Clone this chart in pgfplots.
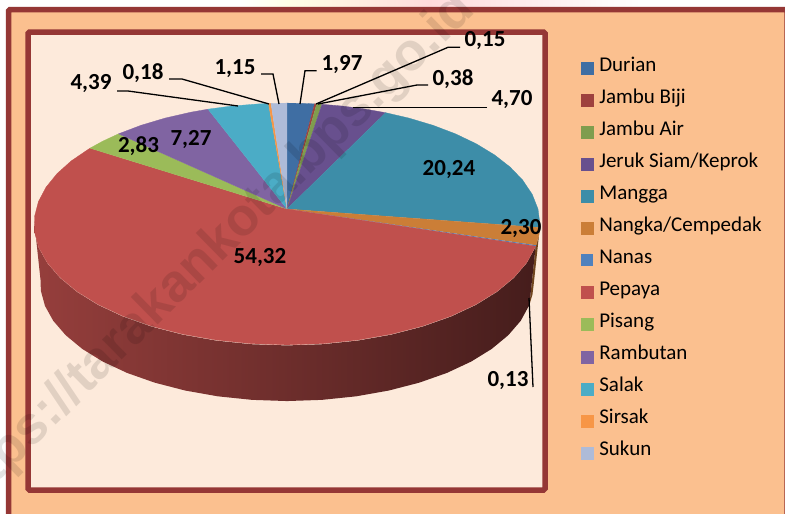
\documentclass[border=0pt]{standalone}
\usepackage{fontspec}
\setmainfont{Carlito}
\newfontfamily\wmfont{Liberation Sans}
\usepackage{pgfplots}
\pgfplotsset{compat=1.18}
\definecolor{frame}{HTML}{953735}
\definecolor{peach}{HTML}{FBC08F}
\definecolor{panel}{HTML}{FDEADB}
\definecolor{cDurian}{HTML}{3F6EA3}
\definecolor{cBiji}{HTML}{9E413E}
\definecolor{cAir}{HTML}{7F9D4E}
\definecolor{cJeruk}{HTML}{68508E}
\definecolor{cMangga}{HTML}{3D8DA8}
\definecolor{cNangka}{HTML}{CB7E37}
\definecolor{cNanas}{HTML}{4F81BD}
\definecolor{cPepaya}{HTML}{C0504D}
\definecolor{cPisang}{HTML}{9BBB59}
\definecolor{cRambutan}{HTML}{8064A2}
\definecolor{cSalak}{HTML}{4BACC6}
\definecolor{cSirsak}{HTML}{F79646}
\definecolor{cSukun}{HTML}{AEBBD8}
\pgfplotsset{
  /pgfplots/table/toppie/.style={
    x expr={287+\thisrow{r}*251*sin(3.6*\thisrow{p})/(1+0.124*cos(3.6*\thisrow{p}))},
    y expr={209-\thisrow{r}*119*cos(3.6*\thisrow{p})/(1+0.124*cos(3.6*\thisrow{p}))}},
  /pgfplots/table/sidepie/.style={
    x expr={287+(1-0.025*\thisrow{l})*251*sin(3.6*\thisrow{p})/(1+0.124*cos(3.6*\thisrow{p}))},
    y expr={209.6+59*\thisrow{l}-(1-0.025*\thisrow{l})*119*cos(3.6*\thisrow{p})/(1+0.124*cos(3.6*\thisrow{p}))}},
  slice/.style={fill=#1,draw=#1,line width=0.3pt,legend image code/.code={\fill[#1] (0pt,-3pt) rectangle (12pt,9pt);}},
  sliver/.style={fill=#1,draw=none,legend image code/.code={\fill[#1] (0pt,-3pt) rectangle (12pt,9pt);}},
  leader/.style={black,line width=1.3pt,forget plot},
}
\newcommand{\lab}[3]{\node[font=\fontsize{23}{26}\selectfont\bfseries,text=black,inner sep=0pt] at (axis cs:#1,#2) {#3};}
\begin{document}
\begin{tikzpicture}
\begin{axis}[name=ax,scale only axis,width=785pt,height=514pt,
  xmin=0,xmax=785,ymin=0,ymax=514,y dir=reverse,hide axis,clip=true,
  legend style={draw=none,fill=none,at={(axis cs:581,51)},anchor=north west,inner sep=0pt,outer sep=0pt,
    row sep=0pt,column sep=6pt,font=\fontsize{21}{24}\selectfont,
    nodes={inner sep=0pt,text height=20pt,text depth=12.08pt,anchor=base west}},
  legend cell align=left]
% panels
\fill[white] (axis cs:0,0) rectangle (axis cs:785,514);
\fill[left color=white,right color=green!8!yellow!10] (axis cs:240,0) rectangle (axis cs:290,8);
\fill[left color=green!8!yellow!10,right color=red!14] (axis cs:290,0) rectangle (axis cs:430,8);
\fill[left color=red!14,right color=white] (axis cs:430,0) rectangle (axis cs:640,8);
\fill[peach] (axis cs:8.5,9.5) rectangle (axis cs:787,520);
\draw[frame,line width=5.5pt,rounded corners=1.5pt] (axis cs:8.5,9.5) rectangle (axis cs:787,520);
\filldraw[fill=panel,draw=frame,line width=5.5pt,rounded corners=1.5pt] (axis cs:28,32) rectangle (axis cs:545,490);
% sides
\addplot[fill=cNangka!55!black,draw=none,forget plot] table[sidepie] {
p l
27.3 0
28.5 0
29.87 0
29.87 1
28.5 1
27.3 1
};
\addplot[left color=cPepaya!78!black,middle color=cPepaya!50!black,right color=cPepaya!36!black,draw=none,forget plot] table[sidepie] {
p l
29.87 0
32 0
34 0
36 0
38 0
40 0
42 0
44 0
46 0
48 0
50 0
52 0
54 0
56 0
58 0
60 0
62 0
64 0
66 0
68 0
70 0
72 0
73.5 0
73.5 1
72 1
70 1
68 1
66 1
64 1
62 1
60 1
58 1
56 1
54 1
52 1
50 1
48 1
46 1
44 1
42 1
40 1
38 1
36 1
34 1
32 1
29.87 1
};
% tops
\addplot[slice=cDurian] table[toppie] {
p r
0 0
0 1
1 1
1.97 1
};
\addlegendentry{Durian}
\addplot[slice=cBiji] table[toppie] {
p r
1.97 0
1.97 1
2.12 1
};
\addlegendentry{Jambu Biji}
\addplot[slice=cAir] table[toppie] {
p r
2.12 0
2.12 1
2.5 1
};
\addlegendentry{Jambu Air}
\addplot[slice=cJeruk] table[toppie] {
p r
2.5 0
2.5 1
4 1
5.5 1
7.2 1
};
\addlegendentry{Jeruk Siam/Keprok}
\addplot[slice=cMangga] table[toppie] {
p r
7.2 0
7.2 1
9 1
11 1
13 1
15 1
17 1
19 1
21 1
23 1
25 1
27 1
27.44 1
};
\addlegendentry{Mangga}
\addplot[slice=cNangka] table[toppie] {
p r
27.44 0
27.44 1
28.5 1
29.74 1
};
\addlegendentry{Nangka/Cempedak}
\addplot[sliver=cNanas] table[toppie] {
p r
29.74 0
29.74 1
29.87 1
};
\addlegendentry{Nanas}
\addplot[slice=cPepaya] table[toppie] {
p r
29.87 0
29.87 1
32 1
34 1
36 1
38 1
40 1
42 1
44 1
46 1
48 1
50 1
52 1
54 1
56 1
58 1
60 1
62 1
64 1
66 1
68 1
70 1
72 1
74 1
76 1
78 1
80 1
82 1
84.19 1
};
\addlegendentry{Pepaya}
\addplot[slice=cPisang] table[toppie] {
p r
84.19 0
84.19 1
85.5 1
87.02 1
};
\addlegendentry{Pisang}
\addplot[slice=cRambutan] table[toppie] {
p r
87.02 0
87.02 1
89 1
91 1
93 1
94.29 1
};
\addlegendentry{Rambutan}
\addplot[slice=cSalak] table[toppie] {
p r
94.29 0
94.29 1
96 1
98 1
98.68 1
};
\addlegendentry{Salak}
\addplot[slice=cSirsak] table[toppie] {
p r
98.68 0
98.68 1
98.86 1
};
\addlegendentry{Sirsak}
\addplot[slice=cSukun] table[toppie] {
p r
98.86 0
98.86 1
100 1
};
\addlegendentry{Sukun}
% leaders
\addplot[leader] coordinates {(316.7,70.7) (305,70.7) (300,104)};
\addplot[leader] coordinates {(460,47.3) (448,47.3) (316,104)};
\addplot[leader] coordinates {(428,85) (417,85) (318,104)};
\addplot[leader] coordinates {(487,107.7) (353,107.7)};
\addplot[leader] coordinates {(261,74) (273,74) (279,104)};
\addplot[leader] coordinates {(169,79) (182,79) (269,104)};
\addplot[leader] coordinates {(117,91) (128,91) (238,106)};
\addplot[leader] coordinates {(533,387) (529,298)};
% labels
\lab{342}{65}{1,97}
\lab{485}{41}{0,15}
\lab{453}{79}{0,38}
\lab{512}{100}{4,70}
\lab{449}{170}{20,24}
\lab{521}{229}{2,30}
\lab{508}{381}{0,13}
\lab{260}{258}{54,32}
\lab{138.5}{146}{2,83}
\lab{191}{140}{7,27}
\lab{91}{84}{4,39}
\lab{143}{73}{0,18}
\lab{235}{69}{1,15}
% watermark
\node[rotate=44.5,font=\wmfont\bfseries\fontsize{53}{57}\selectfont,text=black,opacity=0.11,inner sep=0pt] at (axis cs:209,256) {https://tarakankota.bps.go.id};
\end{axis}
\pgfresetboundingbox
\useasboundingbox (ax.south west) rectangle (ax.north east);
\end{tikzpicture}
\end{document}
